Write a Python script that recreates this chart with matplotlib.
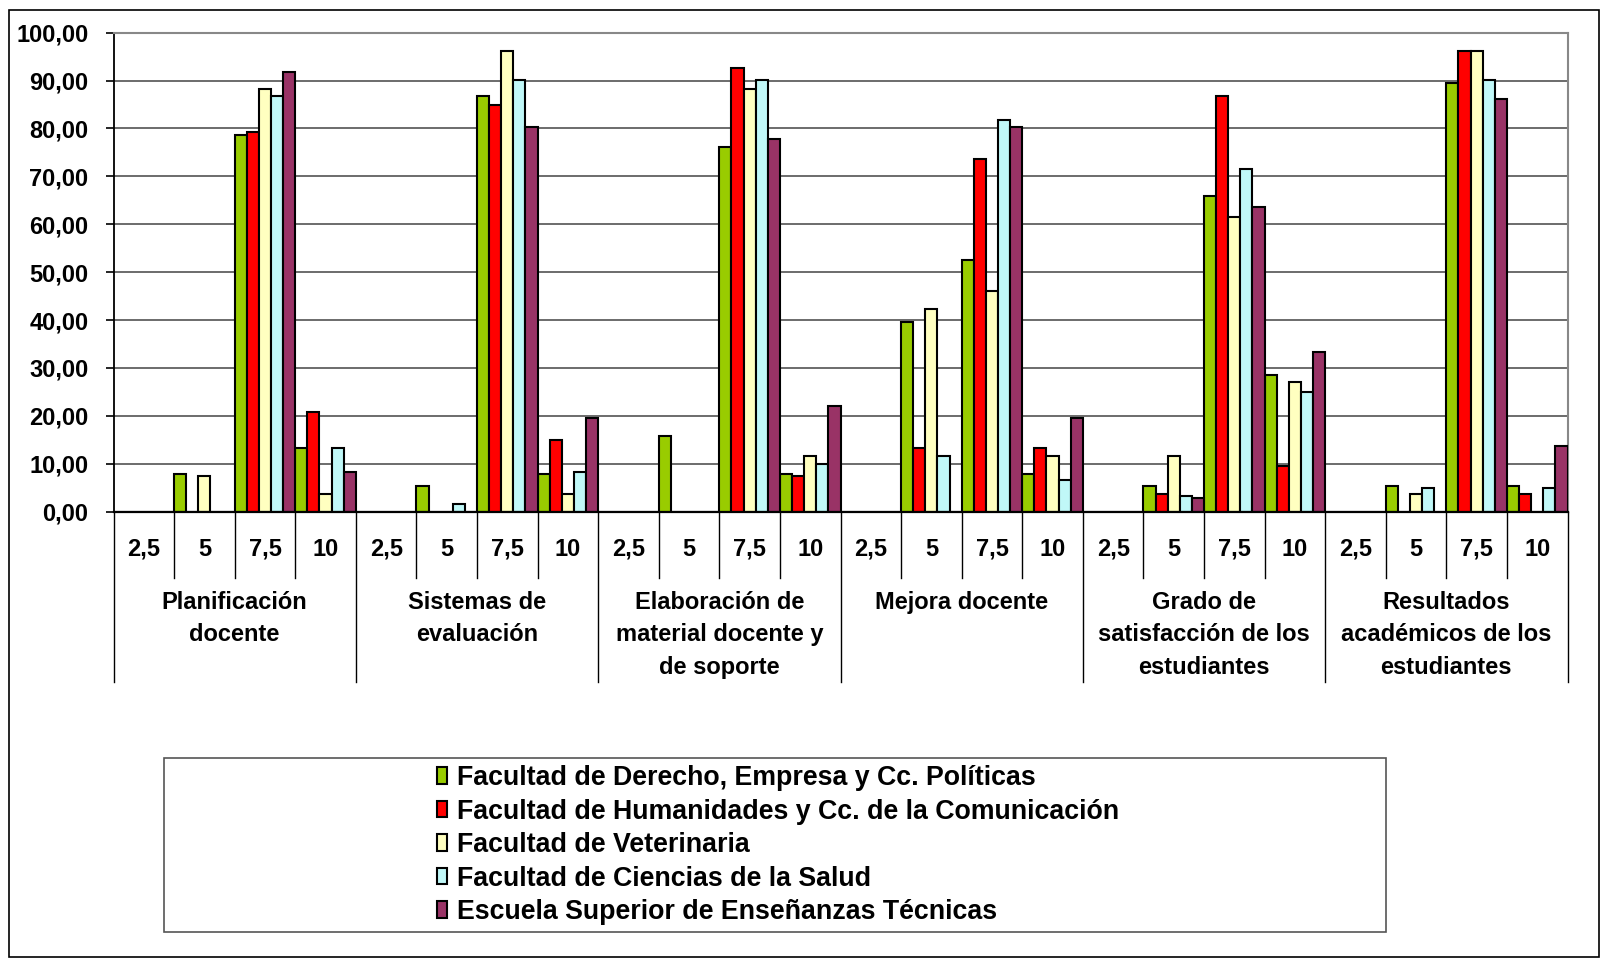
import matplotlib
matplotlib.use('Agg')
import matplotlib.pyplot as plt
from matplotlib.patches import Rectangle
from matplotlib.ticker import FuncFormatter
import numpy as np

plt.rcParams['font.family'] = ['Liberation Sans', 'DejaVu Sans']
plt.rcParams['font.weight'] = 'bold'

groups = ["Planificación\ndocente", "Sistemas de\nevaluación",
          "Elaboración de\nmaterial docente y\nde soporte", "Mejora docente",
          "Grado de\nsatisfacción de los\nestudiantes",
          "Resultados\nacadémicos de los\nestudiantes"]
scores = ["2,5", "5", "7,5", "10"]
series_names = ["Facultad de Derecho, Empresa y Cc. Políticas",
                "Facultad de Humanidades y Cc. de la Comunicación",
                "Facultad de Veterinaria",
                "Facultad de Ciencias de la Salud",
                "Escuela Superior de Enseñanzas Técnicas"]

# values: 6 groups x 4 scores (2,5 / 5 / 7,5 / 10)
derecho     = [0, 7.9, 78.7, 13.2,  0, 5.3, 86.7, 7.8,   0, 15.8, 76.2, 7.8,
               0, 39.5, 52.5, 7.8,  0, 5.3, 65.8, 28.6,  0, 5.3, 89.6, 5.3]
humanidades = [0, 0, 79.2, 20.8,    0, 0, 85.0, 14.9,    0, 0, 92.6, 7.4,
               0, 13.2, 73.7, 13.2, 0, 3.6, 86.7, 9.5,   0, 0, 96.2, 3.6]
veterinaria = [0, 7.4, 88.3, 3.6,   0, 0, 96.2, 3.6,     0, 0, 88.3, 11.6,
               0, 42.4, 46.1, 11.6, 0, 11.6, 61.6, 27.0, 0, 3.6, 96.2, 0]
salud       = [0, 0, 86.7, 13.2,    0, 1.5, 90.1, 8.3,   0, 0, 90.1, 9.9,
               0, 11.6, 81.7, 6.5,  0, 3.2, 71.6, 24.9,  0, 4.9, 90.1, 4.9]
tecnicas    = [0, 0, 91.7, 8.3,     0, 0, 80.4, 19.5,    0, 0, 77.9, 22.0,
               0, 0, 80.4, 19.5,    0, 2.8, 63.7, 33.3,  0, 0, 86.2, 13.7]

colors = ["#99CC00", "#FF0000", "#FFFFC0", "#C0F8F8", "#993366"]
all_series = [derecho, humanidades, veterinaria, salud, tecnicas]

W, H = 1601, 959
fig = plt.figure(figsize=(W / 100, H / 100), dpi=100)

# plot area in pixels
px_left, px_right, px_top, px_bottom = 113.5, 1567.5, 32.7, 511.6
ax = fig.add_axes([px_left / W, 1 - px_bottom / H,
                   (px_right - px_left) / W, (px_bottom - px_top) / H])

def yfrac(ypx):
    return (px_bottom - ypx) / (px_bottom - px_top)

nslots = len(groups) * len(scores)
x = np.arange(nslots)
bw = 1.0 / len(all_series)
handles = []
for s, (vals, col) in enumerate(zip(all_series, colors)):
    bc = ax.bar(x + s * bw, vals, width=bw, align='edge', color=col,
                edgecolor='black', linewidth=1.5, zorder=3, label=series_names[s])
    handles.append(bc)

ax.set_xlim(0, nslots)
ax.set_ylim(0, 100)
ax.set_yticks(np.arange(0, 101, 10))
ax.yaxis.set_major_formatter(FuncFormatter(lambda v, p: f"{v:.2f}".replace('.', ',')))
ax.set_xticks([])
ax.tick_params(axis='y', length=6, width=1.2, pad=12, labelsize=17)
for lab in ax.get_yticklabels():
    lab.set_fontweight('bold')
ax.yaxis.grid(True, color='#606060', linewidth=1.3, zorder=0)
ax.set_axisbelow(True)
ax.spines['left'].set_color('black')
ax.spines['left'].set_linewidth(1.3)
ax.spines['bottom'].set_color('black')
ax.spines['bottom'].set_linewidth(1.6)
ax.spines['bottom'].set_zorder(4)
for sp in ['top', 'right']:
    ax.spines[sp].set_color('#888888')
    ax.spines[sp].set_linewidth(1.5)

tr = ax.get_xaxis_transform()
for i in range(nslots + 1):
    yend = yfrac(682) if i % 4 == 0 else yfrac(578)
    ax.plot([i, i], [0, yend], transform=tr, color='black', lw=1.0, clip_on=False)

for i in range(nslots):
    ax.text(i + 0.5, yfrac(549), scores[i % 4], transform=tr, ha='center',
            va='center', fontsize=17, fontweight='bold')

for g, name in enumerate(groups):
    for k, line in enumerate(name.split('\n')):
        ax.text(4 * g + 2, yfrac(609 + 32.3 * k), line, transform=tr,
                ha='center', va='baseline', fontsize=17, fontweight='bold')

# legend
leg = fig.legend(handles=handles, labels=series_names, loc='upper left',
                 bbox_to_anchor=(437 / W, 1 - 765 / H), frameon=False,
                 fontsize=19.3, handlelength=0.38, handleheight=0.57,
                 handletextpad=0.38, labelspacing=0.28, borderpad=0,
                 borderaxespad=0)
for t in leg.get_texts():
    t.set_fontweight('bold')

fig.patches.append(Rectangle((164 / W, 1 - 932 / H), (1386 - 164) / W, (932 - 758) / H,
                             transform=fig.transFigure, fill=False,
                             edgecolor='#555555', linewidth=1.2))
fig.patches.append(Rectangle((9 / W, 1 - 957 / H), (1599 - 9) / W, (957 - 10) / H,
                             transform=fig.transFigure, fill=False,
                             edgecolor='black', linewidth=1.2))

fig.savefig('out.png', dpi=100, facecolor='white')
